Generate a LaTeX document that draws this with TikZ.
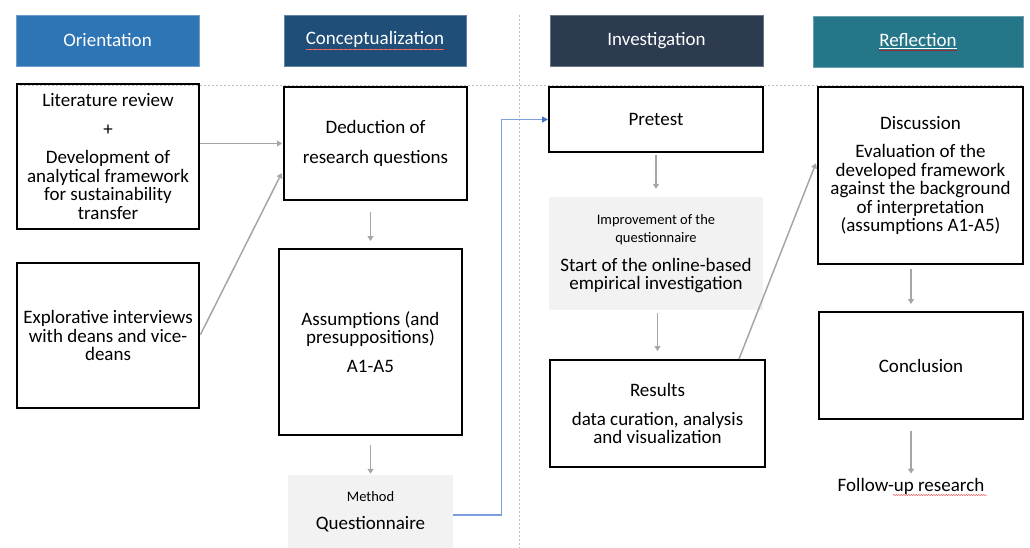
\documentclass[tikz,border=0pt]{standalone}
\usepackage{fontspec}
\setmainfont{Carlito}
\usetikzlibrary{arrows.meta,decorations.pathmorphing}

\definecolor{orient}{HTML}{2E75B6}
\definecolor{concept}{HTML}{1F4E79}
\definecolor{invest}{HTML}{2C3B4F}
\definecolor{reflect}{HTML}{26768A}
\definecolor{boxgrey}{HTML}{F2F2F2}
\definecolor{arrowgrey}{HTML}{A6A6A6}
\definecolor{linkblue}{HTML}{7F9EDD}
\definecolor{tipblue}{HTML}{4472C4}
\definecolor{sepgrey}{HTML}{BFBFBF}

\newcommand{\smalltext}{\fontsize{14.5}{14}\selectfont}
\newcommand{\bigtext}{\fontsize{19}{18.5}\selectfont}

\tikzset{
    bigfont/.style={font=\bigtext},
    head/.style={bigfont, text=white, minimum height=51pt, inner sep=0pt},
    box/.style={bigfont, draw=black, line width=2pt, align=center, inner sep=0pt},
    greybox/.style={bigfont, fill=boxgrey, align=center, inner sep=0pt},
    flow/.style={draw=arrowgrey, line width=1.5pt, -{Triangle[length=5pt,width=6pt]}},
    blueflow/.style={draw=linkblue, line width=1.3pt, -{Triangle[length=6pt,width=6pt,color=tipblue]}},
    sep/.style={draw=sepgrey, line width=0.8pt, dash pattern=on 2pt off 2pt},
    spell/.style={draw=red!85!black, line width=0.35pt, decorate, decoration={snake, amplitude=0.5pt, segment length=2.5pt}}
}

\begin{document}
\begin{tikzpicture}[x=1pt,y=-1pt]
        \useasboundingbox (0,0) rectangle (1030,548);

        \draw[sep] (16,85) -- (1023,85);
        \draw[sep] (519,15) -- (519,548);

        \node[head, fill=orient, draw=orient!70!white, minimum width=183pt] (oHead) at (107.5,40.5) {Orientation};
        \node[head, fill=concept, draw=concept!70!white, minimum width=182pt] (cHead) at (375,40.5) {\underline{Conceptualization}};
        \node[head, fill=invest, draw=invest!70!white, minimum width=213pt] (iHead) at (656.5,40.5) {Investigation};
        \node[head, fill=reflect, draw=reflect!70!white, minimum width=210pt] (rHead) at (918,41.5) {\underline{Reflection}};

        \draw[spell] ([xshift=-69pt,yshift=-9pt]cHead.center) -- ([xshift=71pt,yshift=-9pt]cHead.center);
        \draw[spell] ([xshift=-39pt,yshift=-9pt]rHead.center) -- ([xshift=39pt,yshift=-9pt]rHead.center);

        \node[box, minimum width=182pt, minimum height=145pt] (lit) at (108,156.5)
            {Literature review\\[10pt]+\\[10pt]Development of\\analytical framework\\for sustainability\\transfer};
        \node[box, minimum width=182pt, minimum height=145pt] (explo) at (108,335.5)
            {Explorative interviews\\with deans and vice-\\deans};

        \node[box, minimum width=183pt, minimum height=113pt] (dedu) at (375.5,143.5)
            {Deduction of\\[11pt]research questions};
        \node[box, minimum width=183pt, minimum height=186pt] (assum) at (370.5,342)
            {Assumptions (and\\presuppositions)\\[10pt]A1-A5};
        \node[greybox, minimum width=165pt, minimum height=73pt] (method) at (370.5,511.5)
            {\smalltext Method\\[9pt]\bigtext Questionnaire};

        \node[box, minimum width=214pt, minimum height=65pt] (pretest) at (656,119.5) {Pretest};
        \node[greybox, minimum width=214pt, minimum height=113pt] (improve) at (656,253.5)
            {\smalltext Improvement of the\\\smalltext questionnaire\\[10pt]\bigtext Start of the online-based\\empirical investigation};
        \node[box, minimum width=215pt, minimum height=107pt] (results) at (657.5,413.5)
            {Results\\[10pt]data curation, analysis\\and visualization};

        \node[box, minimum width=205pt, minimum height=177pt] (disc) at (920.5,175.5)
            {Discussion\\[10pt]Evaluation of the\\developed framework\\against the background\\of interpretation\\(assumptions A1-A5)};
        \node[box, minimum width=204pt, minimum height=107pt] (concl) at (921,365.5) {Conclusion};
        \node[bigfont, inner sep=0pt] (follow) at (911,486) {Follow-up research};

        \draw[spell] ([xshift=-18pt,yshift=-9pt]follow.center) -- ([xshift=76pt,yshift=-9pt]follow.center);

        \draw [flow, shorten >=1pt] (lit.east |- dedu.west) -- (dedu.west);
        \draw [flow, shorten <=1pt, shorten >=3pt] (explo.east) -- ([yshift=-27pt]dedu.west);
        \draw [flow, shorten <=11pt, shorten >=7pt] (dedu.south -| assum.north) -- (assum.north);
        \draw [flow, shorten <=9pt, shorten >=1pt] (assum.south) -- (method.north);
        \draw [flow, shorten <=2pt, shorten >=8pt] (pretest.south) -- (pretest.south |- improve.north);
        \draw [flow, shorten <=3pt, shorten >=8pt] (improve.south -| results.north) -- (results.north);
        \draw [flow, shorten >=3pt] ([xshift=81.5pt]results.north) -- ([yshift=15pt]disc.west);
        \draw [flow, shorten <=4pt, shorten >=7pt] (disc.south -| follow.north) -- (concl.north -| follow.north);
        \draw [flow, shorten <=11pt, shorten >=4pt] (concl.south -| follow.north) -- (follow.north);

        \draw [blueflow] (method.east) ++(0,3.5) -- ++(48,0) |- (pretest.west);
    \end{tikzpicture}
\end{document}
